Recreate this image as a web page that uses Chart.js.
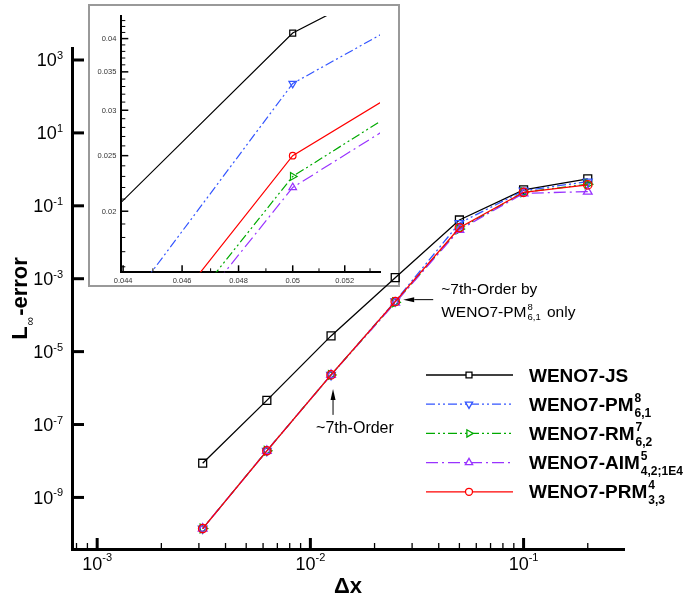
<!DOCTYPE html>
<html lang="en">
<head>
  <meta charset="UTF-8" />
  <title>L-infinity error convergence</title>
  <script src="https://cdn.jsdelivr.net/npm/chart.js"></script>
  <style>
    html, body { margin: 0; padding: 0; background: #fff; }
    #wrap { position: relative; width: 684px; height: 601px; }
    #mainChart { position: absolute; left: 0; top: 0; z-index: 2; }
    #insetBox {
      position: absolute; left: 88px; top: 4px;
      width: 308px; height: 279px;
      border: 2px solid #999; background: #fff; z-index: 1;
    }
    #insetChart { position: absolute; left: 0; top: 0; }
  </style>
</head>
<body>
  <div id="wrap">
    <div id="insetBox"><canvas id="insetChart" width="308" height="279"></canvas></div>
    <canvas id="mainChart" width="684" height="601"></canvas>
  </div>

  <script>
    // grid spacing and L-inf errors
    const dx = [0.2, 0.1, 0.05, 0.025, 0.0125, 0.00625, 0.003125];
    const errJS  = [0.55, 0.275, 0.0409, 1.07e-3, 2.7e-5, 4.6e-7, 8.7e-9];
    const errPM  = [0.46, 0.26, 0.0334, 2.4e-4, 2.3e-6, 1.9e-8, 1.4e-10];
    const errRM  = [0.39, 0.235, 0.0230, 2.25e-4, 2.3e-6, 1.9e-8, 1.4e-10];
    const errAIM = [0.245, 0.22, 0.0220, 2.2e-4, 2.3e-6, 1.9e-8, 1.4e-10];
    const errPRM = [0.375, 0.235, 0.0250, 2.35e-4, 2.3e-6, 1.9e-8, 1.4e-10];

    const seriesNames = ['WENO7-JS', 'WENO7-PM', 'WENO7-RM', 'WENO7-AIM', 'WENO7-PRM'];
    const seriesSup = ['', '8', '7', '5', '4'];
    const seriesSub = ['', '6,1', '6,2', '4,2;1E4', '3,3'];
    const seriesErr = [errJS, errPM, errRM, errAIM, errPRM];

    // tick labels
    const xTickExp = [-3, -2, -1];
    const yTickExp = [3, 1, -1, -3, -5, -7, -9];
    const insetXTicks = ['0.044', '0.046', '0.048', '0.05', '0.052'];
    const insetYTicks = ['0.02', '0.025', '0.03', '0.035', '0.04'];

    // styles
    const FONT = '"Liberation Sans", Arial, Helvetica, sans-serif';
    const colors = ['#000000', '#3355ff', '#00aa00', '#9933ff', '#ff0000'];
    const dashes = [[], [9, 3, 2, 3, 2, 3], [9, 3, 2, 3, 2, 3], [12, 4, 2, 4], []];
    const shapes = ['rect', 'triangle', 'triangle', 'triangle', 'circle'];
    const rotations = [0, 180, 90, 0, 0];
    const drawOrder = [4, 3, 2, 1, 0];

    function makeDatasets(radii, lw) {
      return seriesNames.map((name, i) => ({
        label: name,
        data: dx.map((x, k) => ({ x: x, y: seriesErr[i][k] })),
        borderColor: colors[i],
        borderWidth: lw,
        borderDash: dashes[i],
        pointStyle: shapes[i],
        rotation: rotations[i],
        pointRadius: radii[i],
        pointBorderWidth: lw,
        pointBorderColor: colors[i],
        pointBackgroundColor: 'rgba(0,0,0,0)',
        tension: 0,
        order: drawOrder[i]
      }));
    }

    function logAxis(min, max, bw, isX) {
      return {
        type: 'logarithmic', min: min, max: max, bounds: 'data',
        grid: { display: false, drawTicks: false },
        border: { display: true, color: '#000', width: bw },
        ticks: { display: false },
        afterFit: s => { if (isX) s.height = 0; else s.width = 0; }
      };
    }

    function tickMark(ctx, chart, isX, v, len, w) {
      const a = chart.chartArea;
      ctx.lineWidth = w;
      ctx.beginPath();
      if (isX) {
        const p = chart.scales.x.getPixelForValue(v);
        ctx.moveTo(p, a.bottom); ctx.lineTo(p, a.bottom - len);
      } else {
        const p = chart.scales.y.getPixelForValue(v);
        ctx.moveTo(a.left, p); ctx.lineTo(a.left + len, p);
      }
      ctx.stroke();
    }

    // text with superscript and subscript, returns end x
    function richText(ctx, x, y, main, sup, sub, size, weight, small, supDy, subDy) {
      ctx.font = weight + ' ' + size + 'px ' + FONT;
      ctx.fillText(main, x, y);
      let end = x + ctx.measureText(main).width + 1;
      let w = 0;
      ctx.font = weight + ' ' + small + 'px ' + FONT;
      if (sup) { ctx.fillText(sup, end, y - supDy); w = ctx.measureText(sup).width; }
      if (sub) { ctx.fillText(sub, end, y + subDy); w = Math.max(w, ctx.measureText(sub).width); }
      return end + w;
    }

    function arrow(ctx, x1, y1, x2, y2) {
      const ang = Math.atan2(y2 - y1, x2 - x1);
      const hl = 11, hw = 2.5;
      ctx.lineWidth = 1;
      ctx.beginPath();
      ctx.moveTo(x1, y1);
      ctx.lineTo(x2 - Math.cos(ang) * hl, y2 - Math.sin(ang) * hl);
      ctx.stroke();
      ctx.beginPath();
      ctx.moveTo(x2, y2);
      ctx.lineTo(x2 - Math.cos(ang) * hl - Math.sin(ang) * hw, y2 - Math.sin(ang) * hl + Math.cos(ang) * hw);
      ctx.lineTo(x2 - Math.cos(ang) * hl + Math.sin(ang) * hw, y2 - Math.sin(ang) * hl - Math.cos(ang) * hw);
      ctx.closePath();
      ctx.fill();
    }

    const mainDecor = {
      id: 'mainDecor',
      afterDraw(chart) {
        const ctx = chart.ctx, a = chart.chartArea;
        const xs = chart.scales.x, ys = chart.scales.y;
        ctx.save();
        ctx.strokeStyle = '#000';
        ctx.fillStyle = '#000';

        // x ticks: minor at 2..9 of every decade, major at powers of ten
        for (let e = -4; e <= -1; e++) {
          for (let m = 2; m <= 9; m++) {
            const v = m * Math.pow(10, e);
            if (v > xs.min && v < xs.max) tickMark(ctx, chart, true, v, 6, 1.3);
          }
        }
        xTickExp.forEach(e => tickMark(ctx, chart, true, Math.pow(10, e), 11, 3));
        yTickExp.forEach(e => tickMark(ctx, chart, false, Math.pow(10, e), 12, 3));

        // tick labels
        ctx.textBaseline = 'alphabetic';
        ctx.textAlign = 'left';
        xTickExp.forEach(e => {
          const p = xs.getPixelForValue(Math.pow(10, e));
          ctx.font = '18px ' + FONT;
          const w1 = ctx.measureText('10').width;
          ctx.font = '11px ' + FONT;
          const w2 = ctx.measureText(String(e)).width;
          const x0 = p - (w1 + w2) / 2;
          ctx.font = '18px ' + FONT;
          ctx.fillText('10', x0, a.bottom + 21);
          ctx.font = '11px ' + FONT;
          ctx.fillText(String(e), x0 + w1, a.bottom + 12);
        });
        yTickExp.forEach(e => {
          const p = ys.getPixelForValue(Math.pow(10, e));
          ctx.font = '11px ' + FONT;
          const w2 = ctx.measureText(String(e)).width;
          ctx.font = '18px ' + FONT;
          const w1 = ctx.measureText('10').width;
          const xr = a.left - 9;
          ctx.fillText('10', xr - w2 - w1, p + 6.5);
          ctx.font = '11px ' + FONT;
          ctx.fillText(String(e), xr - w2, p - 1);
        });

        // axis titles
        ctx.font = 'bold 22px ' + FONT;
        ctx.textAlign = 'center';
        ctx.fillText('\u0394x', (a.left + a.right) / 2, 593);
        ctx.textAlign = 'left';
        ctx.save();
        ctx.translate(27, (a.top + a.bottom) / 2);
        ctx.rotate(-Math.PI / 2);
        ctx.font = 'bold 22px ' + FONT;
        const wL = ctx.measureText('L').width;
        const wE = ctx.measureText('-error').width;
        ctx.font = '12px ' + FONT;
        const wI = ctx.measureText('\u221e').width;
        let tx = -(wL + wI + wE + 2) / 2;
        ctx.font = 'bold 22px ' + FONT;
        ctx.fillText('L', tx, 0);
        tx += wL + 1;
        ctx.font = '12px ' + FONT;
        ctx.fillText('\u221e', tx, 7);
        tx += wI + 1;
        ctx.font = 'bold 22px ' + FONT;
        ctx.fillText('-error', tx, 0);
        ctx.restore();

        // annotations
        const p1x = xs.getPixelForValue(dx[4]), p1y = ys.getPixelForValue(errPRM[4]);
        arrow(ctx, p1x + 2, p1y + 40, p1x + 2, p1y + 14);
        ctx.font = '16px ' + FONT;
        ctx.fillText('~7th-Order', p1x - 15, p1y + 58);

        const p2x = xs.getPixelForValue(dx[3]), p2y = ys.getPixelForValue(errPRM[3]);
        arrow(ctx, p2x + 38, p2y - 2, p2x + 8, p2y - 2);
        ctx.font = '15.5px ' + FONT;
        ctx.fillText('~7th-Order by', p2x + 46, p2y - 8);
        const end = richText(ctx, p2x + 46, p2y + 15, 'WENO7-PM', '8', '6,1', 15.5, 'normal', 9.5, 6.5, 3);
        ctx.font = '15.5px ' + FONT;
        ctx.fillText(' only', end + 2, p2y + 15);

        // legend
        chart.data.datasets.forEach((ds, i) => {
          const ry = 375 + i * 29.2;
          ctx.strokeStyle = ds.borderColor;
          ctx.lineWidth = 1.3;
          ctx.setLineDash(ds.borderDash);
          ctx.beginPath();
          ctx.moveTo(426, ry); ctx.lineTo(513, ry);
          ctx.stroke();
          ctx.setLineDash([]);
          ctx.fillStyle = '#fff';
          Chart.helpers.drawPoint(ctx, {
            pointStyle: ds.pointStyle, rotation: ds.rotation,
            radius: ds.pointStyle === 'circle' ? 3.5 : 4.2, borderWidth: 1.3
          }, 469, ry);
          ctx.fillStyle = '#000';
          richText(ctx, 529, ry + 6.5, seriesNames[i], seriesSup[i], seriesSub[i], 19, 'bold', 12, 9, 6);
        });
        ctx.restore();
      }
    };

    const insetDecor = {
      id: 'insetDecor',
      afterDraw(chart) {
        const ctx = chart.ctx, a = chart.chartArea;
        const xs = chart.scales.x, ys = chart.scales.y;
        ctx.save();
        ctx.strokeStyle = '#000';
        for (let k = 45; k <= 53; k += 2) tickMark(ctx, chart, true, k / 1000, 4, 1);
        for (let k = 16; k <= 43; k++) if (k % 5 !== 0) tickMark(ctx, chart, false, k / 1000, 4, 1);
        insetXTicks.forEach(t => tickMark(ctx, chart, true, parseFloat(t), 7, 1.5));
        insetYTicks.forEach(t => tickMark(ctx, chart, false, parseFloat(t), 7, 1.5));

        ctx.fillStyle = '#333';
        ctx.font = '7.5px ' + FONT;
        ctx.textAlign = 'center';
        insetXTicks.forEach(t => ctx.fillText(t, xs.getPixelForValue(parseFloat(t)), a.bottom + 11));
        ctx.textAlign = 'right';
        insetYTicks.forEach(t => ctx.fillText(t, a.left - 5, ys.getPixelForValue(parseFloat(t)) + 2.5));
        ctx.restore();
      }
    };

    new Chart(document.getElementById('insetChart'), {
      type: 'line',
      data: { datasets: makeDatasets([4.2, 4.4, 4.4, 4.4, 3.3], 1.2) },
      options: {
        responsive: false, animation: false, devicePixelRatio: 1,
        layout: { padding: { left: 31.3, right: 18, top: 10, bottom: 12.7 } },
        scales: {
          x: logAxis(0.04394, 0.0534, 2, true),
          y: logAxis(0.01565, 0.0438, 2, false)
        },
        plugins: { legend: { display: false }, tooltip: { enabled: false } }
      },
      plugins: [insetDecor]
    });

    new Chart(document.getElementById('mainChart'), {
      type: 'line',
      data: { datasets: makeDatasets([5.6, 5, 5, 5, 4.2], 1.3) },
      options: {
        responsive: false, animation: false, devicePixelRatio: 1,
        layout: { padding: { left: 72, right: 60, top: 48, bottom: 52 } },
        scales: {
          x: logAxis(7.62e-4, 0.2958, 3, true),
          y: logAxis(3.85e-11, 2133, 3, false)
        },
        plugins: { legend: { display: false }, tooltip: { enabled: false } }
      },
      plugins: [mainDecor]
    });
  </script>
</body>
</html>
